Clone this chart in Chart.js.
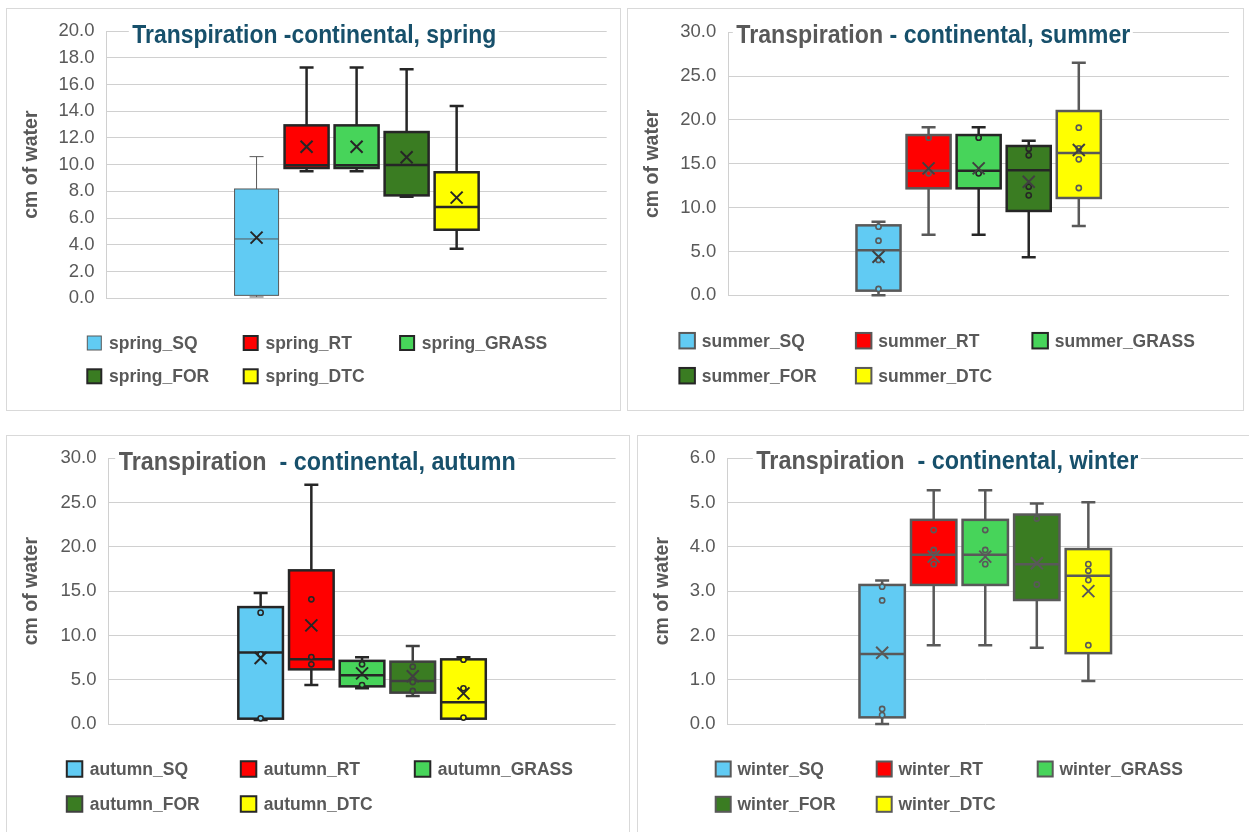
<!DOCTYPE html>
<html><head><meta charset="utf-8">
<script src="https://cdn.jsdelivr.net/npm/chart.js@4.4.1/dist/chart.umd.min.js"></script>
<style>
html,body{margin:0;padding:0;background:#fff;overflow:hidden;width:1249px;height:832px;}
.panel{position:absolute;box-sizing:border-box;border:1px solid #d9d9d9;background:#fff;}
.panel canvas{position:absolute;left:0;top:0;}
</style></head><body>
<div class="panel" style="left:6px;top:8px;width:615px;height:403px"><canvas id="c1" width="613" height="401"></canvas></div>
<div class="panel" style="left:627px;top:8px;width:617px;height:403px"><canvas id="c2" width="615" height="401"></canvas></div>
<div class="panel" style="left:6px;top:435px;width:624px;height:410px"><canvas id="c3" width="622" height="408"></canvas></div>
<div class="panel" style="left:637px;top:435px;width:620px;height:410px"><canvas id="c4" width="618" height="408"></canvas></div>
<script>
// ---------- DATA ----------
const categories = [''];
const seriesNames = ['SQ', 'RT', 'GRASS', 'FOR', 'DTC'];
const yAxisTitle = 'cm of water';

const springMin    = [0.10, 9.50, 9.50, 7.60, 3.71];
const springQ1     = [0.22, 9.75, 9.75, 7.70, 5.13];
const springMedian = [4.44, 9.95, 9.95, 9.97, 6.83];
const springQ3     = [8.18, 12.94, 12.94, 12.44, 9.43];
const springMax    = [10.60, 17.26, 17.26, 17.13, 14.39];
const springMean   = [4.54, 11.34, 11.34, 10.55, 7.53];
const springPoints = [[], [], [], [], []];
const springTicks  = [0, 2, 4, 6, 8, 10, 12, 14, 16, 18, 20];

const summerMin    = [0.00, 6.92, 6.92, 4.33, 7.90];
const summerQ1     = [0.53, 12.20, 12.20, 9.62, 11.10];
const summerMedian = [5.13, 14.22, 14.22, 14.26, 16.23];
const summerQ3     = [7.98, 18.28, 18.28, 17.03, 21.02];
const summerMax    = [8.40, 19.16, 19.16, 17.64, 26.53];
const summerMean   = [4.40, 14.48, 14.48, 12.96, 16.57];
const summerPoints = [[7.83, 6.23, 4.03, 0.72], [17.98, 13.91], [17.98, 13.91], [16.73, 15.97, 12.39, 11.40], [19.12, 16.77, 15.51, 12.24]];
const summerTicks  = [0, 5, 10, 15, 20, 25, 30];

const autumnMin    = [0.45, 4.40, 4.03, 3.16, 0.60];
const autumnQ1     = [0.60, 6.17, 4.25, 3.54, 0.60];
const autumnMedian = [8.07, 7.32, 5.50, 4.86, 2.45];
const autumnQ3     = [13.20, 17.35, 7.13, 7.04, 7.30];
const autumnMax    = [14.79, 27.02, 7.55, 8.81, 7.53];
const autumnMean   = [7.45, 11.14, 5.72, 5.40, 3.46];
const autumnPoints = [[12.57, 7.87, 0.64], [14.08, 7.56, 6.74], [6.74, 4.40], [6.47, 4.74, 3.73], [7.26, 4.03, 0.72]];
const autumnTicks  = [0, 5, 10, 15, 20, 25, 30];

const winterMin    = [0.00, 1.78, 1.78, 1.72, 0.97];
const winterQ1     = [0.15, 3.14, 3.14, 2.80, 1.60];
const winterMedian = [1.58, 3.82, 3.82, 3.61, 3.35];
const winterQ3     = [3.14, 4.61, 4.61, 4.73, 3.95];
const winterMax    = [3.24, 5.28, 5.28, 4.98, 5.01];
const winterMean   = [1.61, 3.78, 3.78, 3.63, 3.00];
const winterPoints = [[3.10, 2.79, 0.34, 0.20], [4.38, 3.93, 3.61], [4.38, 3.93, 3.61], [4.64, 3.15], [3.61, 3.46, 3.25, 1.78]];
const winterTicks  = [0, 1, 2, 3, 4, 5, 6];

// ---------- STYLE ----------
const fills = ['#61CBF3', '#FF0000', '#47D45A', '#3A7C22', '#FFFF00'];
const TEAL = '#17506b', GRAY = '#595959';
const SANS = "'Liberation Sans', Arial, sans-serif";

function boxPlugin(d, look) {
  return {
    id: 'boxdraw',
    beforeDatasetsDraw(chart) {
      const ctx = chart.ctx, y = chart.scales.y;
      ctx.save();
      for (let i = 0; i < seriesNames.length; i++) {
        const bar = chart.getDatasetMeta(i).data[0];
        const x = bar.x, half = 7;
        ctx.strokeStyle = look.borders[i];
        ctx.lineWidth = look.lws[i];
        ctx.beginPath();
        const pMax = y.getPixelForValue(d.max[i]), pQ3 = y.getPixelForValue(d.q3[i]);
        const pMin = y.getPixelForValue(d.min[i]), pQ1 = y.getPixelForValue(d.q1[i]);
        ctx.moveTo(x, pQ3); ctx.lineTo(x, pMax);
        ctx.moveTo(x - half, pMax); ctx.lineTo(x + half, pMax);
        ctx.moveTo(x, pQ1); ctx.lineTo(x, pMin);
        ctx.moveTo(x - half, pMin); ctx.lineTo(x + half, pMin);
        ctx.stroke();
      }
      ctx.restore();
    },
    afterDatasetsDraw(chart) {
      const ctx = chart.ctx, y = chart.scales.y;
      ctx.save();
      for (let i = 0; i < seriesNames.length; i++) {
        const bar = chart.getDatasetMeta(i).data[0];
        const x = bar.x, w = bar.width, xl = x - w / 2;
        const pQ3 = y.getPixelForValue(d.q3[i]), pQ1 = y.getPixelForValue(d.q1[i]);
        ctx.strokeStyle = look.borders[i];
        ctx.lineWidth = look.lws[i];
        ctx.strokeRect(xl, pQ3, w, pQ1 - pQ3);
        const pMed = y.getPixelForValue(d.median[i]);
        ctx.beginPath(); ctx.moveTo(xl, pMed); ctx.lineTo(xl + w, pMed); ctx.stroke();
        ctx.lineWidth = 1.6;
        for (const v of d.points[i]) {
          const py = y.getPixelForValue(v);
          ctx.beginPath(); ctx.arc(x, py, 2.6, 0, Math.PI * 2);
          ctx.fillStyle = fills[i]; ctx.fill(); ctx.stroke();
        }
        const pm = y.getPixelForValue(d.mean[i]), s = 6;
        ctx.strokeStyle = look.mark[i];
        ctx.lineWidth = 2;
        ctx.beginPath();
        ctx.moveTo(x - s, pm - s); ctx.lineTo(x + s, pm + s);
        ctx.moveTo(x + s, pm - s); ctx.lineTo(x - s, pm + s);
        ctx.stroke();
      }
      ctx.restore();
    },
    afterDraw(chart) {
      const ctx = chart.ctx;
      ctx.save();
      // title (condensed look: bold face, narrowed horizontally)
      const full = look.title.map(s => s.t).join('');
      ctx.font = 'bold 25px ' + SANS;
      const sx = look.titleW / ctx.measureText(full).width;
      ctx.fillStyle = '#fff';
      ctx.fillRect(look.titleX - 3.5, look.titleBase - 24, look.titleW + 6, 30);
      ctx.textBaseline = 'alphabetic';
      ctx.textAlign = 'left';
      ctx.save();
      ctx.translate(look.titleX, look.titleBase);
      ctx.scale(sx, 1);
      let tx = 0;
      for (const seg of look.title) {
        ctx.fillStyle = seg.c;
        ctx.fillText(seg.t, tx, 0);
        tx += ctx.measureText(seg.t).width;
      }
      ctx.restore();
      // legend
      const L = look.legend;
      ctx.font = 'bold 17.5px ' + SANS;
      ctx.textBaseline = 'middle';
      for (let i = 0; i < seriesNames.length; i++) {
        const col = i % 3, row = Math.floor(i / 3);
        const lx = L.x0 + col * L.dx, cy = L.rows[row];
        ctx.fillStyle = fills[i];
        ctx.fillRect(lx, cy - L.sw / 2, L.sw, L.sw);
        ctx.strokeStyle = look.borders[i];
        ctx.lineWidth = look.lws[i] < 2 ? 1 : 2;
        ctx.strokeRect(lx, cy - L.sw / 2, L.sw, L.sw);
        ctx.fillStyle = GRAY;
        ctx.fillText(look.season + '_' + seriesNames[i], lx + L.off, cy + 1);
      }
      ctx.restore();
    }
  };
}

function makeChart(id, d, look) {
  const canvas = document.getElementById(id);
  const W = canvas.width, H = canvas.height, A = look.area;
  return new Chart(canvas, {
    type: 'bar',
    data: {
      labels: categories,
      datasets: seriesNames.map((n, i) => ({
        label: look.season + '_' + n,
        data: [[d.q1[i], d.q3[i]]],
        backgroundColor: fills[i],
        borderWidth: 0,
        barPercentage: 0.88,
        categoryPercentage: 0.5
      }))
    },
    options: {
      responsive: false, animation: false, events: [],
      layout: { padding: { left: 0, top: A.t, right: W - A.r, bottom: H - A.b } },
      plugins: { legend: { display: false }, title: { display: false }, tooltip: { enabled: false } },
      scales: {
        x: { display: false },
        y: {
          min: d.ticks[0], max: d.ticks[d.ticks.length - 1],
          afterBuildTicks: s => { s.ticks = d.ticks.map(v => ({ value: v })); },
          afterFit: s => { s.width = A.l; s.paddingTop = 0; s.paddingBottom = 0; },
          ticks: { padding: 12, color: GRAY, font: { family: SANS, size: 18.5 }, callback: v => Number(v).toFixed(1) },
          grid: { color: '#d0d0d0', lineWidth: 1, drawTicks: false },
          border: { display: true, color: '#d0d0d0' },
          title: { display: true, text: yAxisTitle, color: GRAY, font: { family: SANS, size: 19.5, weight: 'bold' }, padding: { top: 12.8, bottom: 0 } }
        }
      }
    },
    plugins: [boxPlugin(d, look)]
  });
}

makeChart('c1',
  { min: springMin, q1: springQ1, median: springMedian, q3: springQ3, max: springMax, mean: springMean, points: springPoints, ticks: springTicks },
  { season: 'spring', area: { l: 99.5, t: 22, r: 599.7, b: 289.3 },
    title: [{ t: 'Transpiration -continental, spring', c: TEAL }], titleX: 125.3, titleBase: 34, titleW: 364,
    legend: { x0: 80.3, dx: 156.4, rows: [334, 367.3], sw: 14, off: 21.7 },
    borders: ['#595959', '#262626', '#262626', '#262626', '#262626'], lws: [1, 2.5, 2.5, 2.5, 2.5],
    mark: ['#262626', '#262626', '#262626', '#262626', '#262626'] });

makeChart('c2',
  { min: summerMin, q1: summerQ1, median: summerMedian, q3: summerQ3, max: summerMax, mean: summerMean, points: summerPoints, ticks: summerTicks },
  { season: 'summer', area: { l: 100.3, t: 23.3, r: 601, b: 286.3 },
    title: [{ t: 'Transpiration ', c: GRAY }, { t: '- continental, summer', c: TEAL }], titleX: 108.3, titleBase: 34.3, titleW: 394,
    legend: { x0: 51.4, dx: 176.5, rows: [331.7, 366.7], sw: 15.5, off: 22.4 },
    borders: ['#595959', '#595959', '#262626', '#262626', '#595959'], lws: [2.5, 2.5, 2.5, 2.5, 2.5],
    mark: ['#404040', '#404040', '#404040', '#404040', '#404040'] });

makeChart('c3',
  { min: autumnMin, q1: autumnQ1, median: autumnMedian, q3: autumnQ3, max: autumnMax, mean: autumnMean, points: autumnPoints, ticks: autumnTicks },
  { season: 'autumn', area: { l: 101.5, t: 22.3, r: 608.6, b: 288 },
    title: [{ t: 'Transpiration  ', c: GRAY }, { t: '- continental, autumn', c: TEAL }], titleX: 111.7, titleBase: 34, titleW: 397,
    legend: { x0: 59.8, dx: 174, rows: [333, 368], sw: 15.5, off: 23 },
    borders: ['#262626', '#262626', '#262626', '#404040', '#262626'], lws: [2.5, 2.5, 2.5, 2.5, 2.5],
    mark: ['#262626', '#262626', '#262626', '#404040', '#262626'] });

makeChart('c4',
  { min: winterMin, q1: winterQ1, median: winterMedian, q3: winterQ3, max: winterMax, mean: winterMean, points: winterPoints, ticks: winterTicks },
  { season: 'winter', area: { l: 89.5, t: 22.3, r: 605, b: 288 },
    title: [{ t: 'Transpiration  ', c: GRAY }, { t: '- continental, winter', c: TEAL }], titleX: 118.3, titleBase: 33.3, titleW: 382,
    legend: { x0: 77.7, dx: 161, rows: [333, 368.3], sw: 15, off: 21.7 },
    borders: ['#595959', '#595959', '#595959', '#595959', '#595959'], lws: [2.5, 2.5, 2.5, 2.5, 2.5],
    mark: ['#595959', '#595959', '#595959', '#595959', '#595959'] });
</script>
</body></html>
